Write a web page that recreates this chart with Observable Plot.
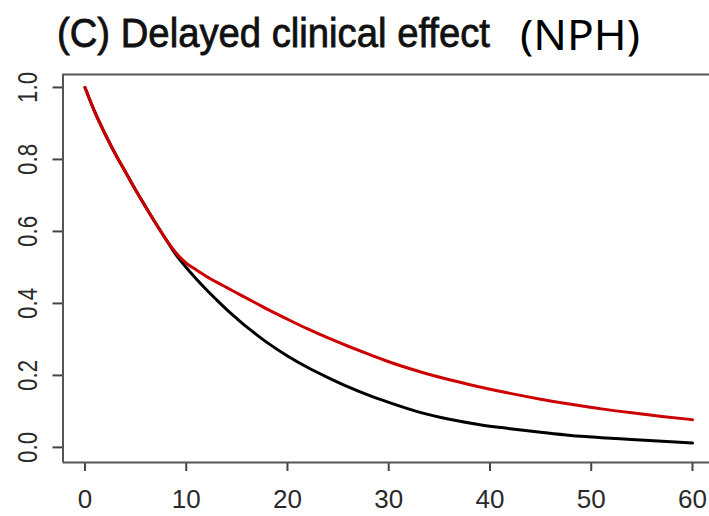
<!DOCTYPE html>
<html><head><meta charset="utf-8">
<script src="https://cdn.jsdelivr.net/npm/d3@7"></script>
<script src="https://cdn.jsdelivr.net/npm/@observablehq/plot@0.6"></script>
<style>
body{margin:0;background:#fff;width:709px;height:516px;overflow:hidden}
#title{display:block}
#chart svg{display:block}
</style></head>
<body>
<svg id="title" width="709" height="62">
  <text x="57" y="47" textLength="433" lengthAdjust="spacingAndGlyphs" font-family="'Liberation Sans',Arial,sans-serif" font-size="40" fill="#111" stroke="#111" stroke-width="0.8">(C) Delayed clinical effect</text>
  <text x="520" y="50" textLength="120" lengthAdjust="spacingAndGlyphs" font-family="'Noto Sans','Open Sans',sans-serif" font-size="42" fill="#000">(NPH)</text>
</svg>
<div id="chart"></div>
<script>
// Kaplan-Meier style survival curves
const redTime  = [0, 1, 2, 3, 4, 5, 6, 7, 8, 9, 10, 11, 12, 13, 14, 15, 16, 17, 18, 20, 22, 24, 26, 28, 30, 33, 36, 39, 42, 45, 48, 51, 54, 57, 60];
const redSurv  = [1.0, 0.93, 0.87, 0.815, 0.765, 0.715, 0.668, 0.622, 0.578, 0.54, 0.512, 0.493, 0.475, 0.459, 0.444, 0.429, 0.414, 0.399, 0.384, 0.356, 0.329, 0.304, 0.281, 0.259, 0.238, 0.211, 0.188, 0.168, 0.15, 0.134, 0.12, 0.107, 0.096, 0.086, 0.077];
const blackTime = [0, 1, 2, 3, 4, 5, 6, 7, 8, 9, 10, 11, 12, 13, 14, 15, 16, 17, 18, 20, 22, 24, 26, 28, 30, 33, 36, 39, 42, 45, 48, 51, 54, 57, 60];
const blackSurv = [1.0, 0.93, 0.87, 0.815, 0.765, 0.715, 0.668, 0.622, 0.578, 0.535, 0.50, 0.468, 0.438, 0.41, 0.383, 0.358, 0.334, 0.312, 0.291, 0.254, 0.222, 0.194, 0.168, 0.145, 0.125, 0.098, 0.078, 0.063, 0.052, 0.042, 0.033, 0.027, 0.022, 0.017, 0.012];
const xTicks = [0, 10, 20, 30, 40, 50, 60];
const yTicks = [0, 0.2, 0.4, 0.6, 0.8, 1.0];
const xDomain = [-2.17, 61.68];
const yDomain = [-0.042, 1.036];

const red = redTime.map((t, i) => ({t, s: redSurv[i]}));
const black = blackTime.map((t, i) => ({t, s: blackSurv[i]}));

const tickFont = "'Liberation Sans',Arial,sans-serif";
const chart = Plot.plot({
  width: 709,
  height: 454,
  marginLeft: 62.5,
  marginRight: 0,
  marginTop: 12,
  marginBottom: 54,
  style: {fontFamily: tickFont, background: "#fff"},
  x: {domain: xDomain},
  y: {domain: yDomain},
  marks: [
    Plot.axisX(xTicks, {tickSize: 9, tickPadding: 18, fontSize: 26, stroke: "#444", strokeWidth: 2, fill: "#2a2a2a", label: null}),
    Plot.axisY(yTicks, {tickSize: 10, tickPadding: 16, tickRotate: -90, fontSize: 27, stroke: "#444", strokeWidth: 2, fill: "#2a2a2a", tickFormat: d3.format(".1f"), label: null}),
    Plot.line(black, {x: "t", y: "s", stroke: "#000", strokeWidth: 3, curve: "monotone-x"}),
    Plot.line(red, {x: "t", y: "s", stroke: "#cc0000", strokeWidth: 3, curve: "monotone-x"}),
    Plot.ruleY([yDomain[0], yDomain[1]], {stroke: "#555", strokeWidth: 2}),
    Plot.ruleX([xDomain[0]], {stroke: "#555", strokeWidth: 2})
  ]
});
document.getElementById("chart").appendChild(chart);
// condense the rotated y tick labels like the original
chart.querySelectorAll("g[aria-label='y-axis tick label'] text").forEach(t => {
  t.setAttribute("textLength", 31);
  t.setAttribute("lengthAdjust", "spacingAndGlyphs");
});
</script>
</body></html>
